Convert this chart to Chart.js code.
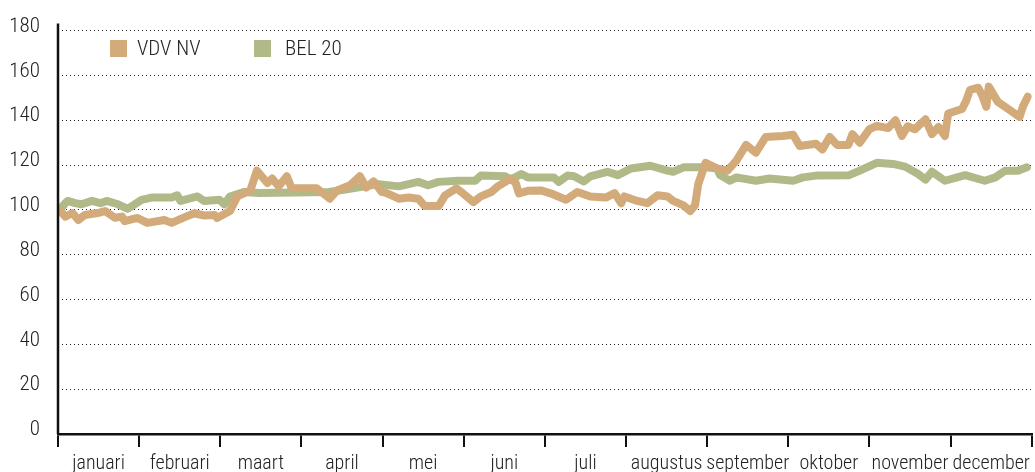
<!DOCTYPE html>
<html>
<head>
<meta charset="utf-8">
<script src="https://cdn.jsdelivr.net/npm/chart.js@4/dist/chart.umd.min.js"></script>
<style>
  body { margin: 0; background: #fff; }
  #wrap { position: relative; width: 1035px; height: 472px; }
  .legend { position: absolute; top: 38px; left: 110px; font-family: 'Liberation Sans Narrow', 'Roboto Condensed', Roboto, sans-serif; font-weight: 300; font-size: 21px; color: #222; }
  .legend span { position: absolute; white-space: nowrap; top: 0; line-height: 20px; }
  .legend i { position: absolute; top: 2px; width: 17px; height: 17px; }
</style>
</head>
<body>
<div id="wrap">
  <canvas id="koers"></canvas>
  <div class="legend">
    <i style="left:0; background:#d3ab7b"></i><span style="left:27px">VDV NV</span>
    <i style="left:144px; background:#b0ba88"></i><span style="left:175px">BEL 20</span>
  </div>
</div>
<script>
// maanden op de x-as
const months = ['januari', 'februari', 'maart', 'april', 'mei', 'juni', 'juli',
                'augustus', 'september', 'oktober', 'november', 'december'];

const vdvPos = [0.02, 0.09, 0.18, 0.25, 0.33, 0.49, 0.58, 0.70, 0.79, 0.82, 0.98, 1.10, 1.31, 1.40, 1.60, 1.68,
  1.80, 1.93, 1.96, 2.12, 2.21, 2.37, 2.45, 2.58, 2.64, 2.72, 2.82, 2.88, 3.19, 3.35, 3.44, 3.60, 3.72, 3.80,
  3.89, 3.99, 4.05, 4.20, 4.32, 4.44, 4.52, 4.69, 4.77, 4.91, 4.97, 5.12, 5.21, 5.34, 5.42, 5.58, 5.64, 5.68,
  5.79, 5.95, 6.07, 6.26, 6.40, 6.56, 6.75, 6.86, 6.94, 6.98, 7.14, 7.26, 7.39, 7.51, 7.58, 7.71, 7.79, 7.85,
  7.89, 7.98, 8.12, 8.25, 8.36, 8.48, 8.60, 8.72, 8.93, 9.06, 9.14, 9.34, 9.42, 9.51, 9.60, 9.74, 9.79, 9.88,
  10.00, 10.09, 10.23, 10.32, 10.40, 10.47, 10.56, 10.69, 10.77, 10.85, 10.93, 10.97, 11.14, 11.19, 11.24,
  11.34, 11.39, 11.44, 11.47, 11.58, 11.67, 11.75, 11.85, 11.89, 11.95];
const vdvValues = [100, 97, 98.6, 95.5, 97.7, 98.6, 99.5, 96.5, 97, 95, 96.4, 94.2, 95.5, 94.2, 97.3, 98.5,
  97.5, 97.7, 96.4, 99.5, 106, 108.7, 117.5, 112, 114, 110.5, 115, 109.6, 109.6, 105, 108.7, 111, 115, 110,
  112.7, 108, 107.5, 105, 105.5, 105, 101.7, 101.7, 106.5, 109.6, 108, 103.5, 106, 108, 110.5, 114, 112, 107.4,
  108.5, 108.7, 107.4, 104.5, 108, 106, 105.5, 107.5, 103, 106, 104, 103, 106.5, 106, 104, 102, 99.5, 102,
  111.5, 121, 118.5, 117.5, 122, 129, 125.5, 132.5, 133, 133.5, 128.5, 129.5, 127, 132.5, 129, 129, 133.8, 130,
  136, 137.5, 136.5, 140, 133, 137.3, 136, 140.4, 133.8, 137, 133, 143, 145, 148.5, 153.6,
  154.5, 151, 146, 155, 148.3, 146, 144, 141.5, 146, 150.5];

const belPos = [0.02, 0.09, 0.12, 0.21, 0.29, 0.42, 0.52, 0.60, 0.74, 0.86, 1.03, 1.15, 1.40, 1.47, 1.51, 1.72,
  1.80, 1.99, 2.05, 2.12, 2.29, 2.48, 3.34, 3.52, 3.95, 4.20, 4.44, 4.56, 4.69, 4.93, 5.14, 5.21, 5.51, 5.58,
  5.71, 5.79, 6.11, 6.17, 6.28, 6.36, 6.48, 6.56, 6.77, 6.90, 7.06, 7.30, 7.51, 7.58, 7.71, 7.98, 8.12, 8.16,
  8.28, 8.36, 8.60, 8.77, 9.06, 9.18, 9.34, 9.75, 9.88, 10.09, 10.29, 10.44, 10.60, 10.69, 10.77, 10.93, 11.18,
  11.42, 11.55, 11.67, 11.83, 11.94];
const belValues = [100, 103, 104, 103, 102.5, 104, 103, 104, 102.5, 100.5, 104.5, 105.5, 105.5, 106.5, 104, 106,
  104, 104.5, 102.5, 106, 108, 107.5, 108, 109, 111.5, 110.5, 112.5, 111, 112.5, 113, 113, 115.3, 115, 113.5,
  116, 114.5, 114.5, 112.5, 115.3, 115, 112.7, 115, 117, 115.5, 118.5, 119.7, 117.5, 117, 119, 119, 118.5, 115.5,
  113, 114.5, 113, 114, 113, 114.5, 115.3, 115.5, 117.5, 121, 120.5, 119.3, 116, 113.5, 117, 113, 115.5,
  113, 114.5, 117.5, 117.5, 119];

const yTicks = [0, 20, 40, 60, 80, 100, 120, 140, 160, 180];

function toPoints(pos, vals) {
    return pos.map(function(p, i) { return { x: p, y: vals[i] }; });
}

const condensed = "'Liberation Sans Narrow', 'Roboto Condensed', Roboto, sans-serif";

// y-as iets boven de bovenste rasterlijn laten doorlopen
const axisLine = {
    id: 'axisLine',
    afterDraw: function(chart) {
        const ctx = chart.ctx;
        const area = chart.chartArea;
        ctx.save();
        ctx.strokeStyle = '#111';
        ctx.lineWidth = 2.5;
        ctx.beginPath();
        ctx.moveTo(area.left, area.top - 7);
        ctx.lineTo(area.left, area.bottom);
        ctx.stroke();
        ctx.restore();
    }
};

const ctx = document.getElementById('koers').getContext('2d');
new Chart(ctx, {
    type: 'line',
    data: {
        datasets: [{
            label: 'VDV NV',
            data: toPoints(vdvPos, vdvValues),
            borderColor: '#d3ab7b',
            borderWidth: 8,
            pointRadius: 0,
            tension: 0,
            borderJoinStyle: 'round',
            borderCapStyle: 'round',
            fill: false
        },
        {
            label: 'BEL 20',
            data: toPoints(belPos, belValues),
            borderColor: '#b0ba88',
            borderWidth: 8,
            pointRadius: 0,
            tension: 0,
            borderJoinStyle: 'round',
            borderCapStyle: 'round',
            fill: false
        }]
    },
    options: {
        responsive: true,
        maintainAspectRatio: false,
        animation: false,
        layout: { padding: { top: 25, right: 0, left: 0, bottom: 0 } },
        plugins: {
            legend: { display: false },
            tooltip: { enabled: false }
        },
        scales: {
            x: {
                type: 'linear',
                min: 0,
                max: 12,
                display: false
            },
            maand: {
                type: 'category',
                position: 'bottom',
                labels: months,
                offset: true,
                grid: {
                    offset: true,
                    drawOnChartArea: false,
                    drawTicks: true,
                    tickLength: 13,
                    color: '#111',
                    lineWidth: 2
                },
                border: { display: true, color: '#111', width: 2.5 },
                ticks: {
                    color: '#222',
                    font: { family: condensed, size: 20, weight: 300 },
                    padding: 5,
                    maxRotation: 0,
                    autoSkip: false
                },
                afterFit: function(scale) { scale.height = 38; }
            },
            y: {
                min: 0,
                max: 180,
                afterBuildTicks: function(scale) {
                    scale.ticks = yTicks.map(function(v) { return { value: v }; });
                },
                grid: {
                    drawTicks: false,
                    color: function(c) { return c.tick && c.tick.value === 0 ? 'rgba(0,0,0,0)' : '#222'; },
                    lineWidth: 1
                },
                border: { display: false, dash: [1, 3] },
                ticks: {
                    color: '#222',
                    font: { family: condensed, size: 21, weight: 300 },
                    padding: 18,
                    labelOffset: -4
                },
                afterFit: function(scale) { scale.width = 58; }
            }
        }
    },
    plugins: [axisLine]
});
</script>
</body>
</html>
